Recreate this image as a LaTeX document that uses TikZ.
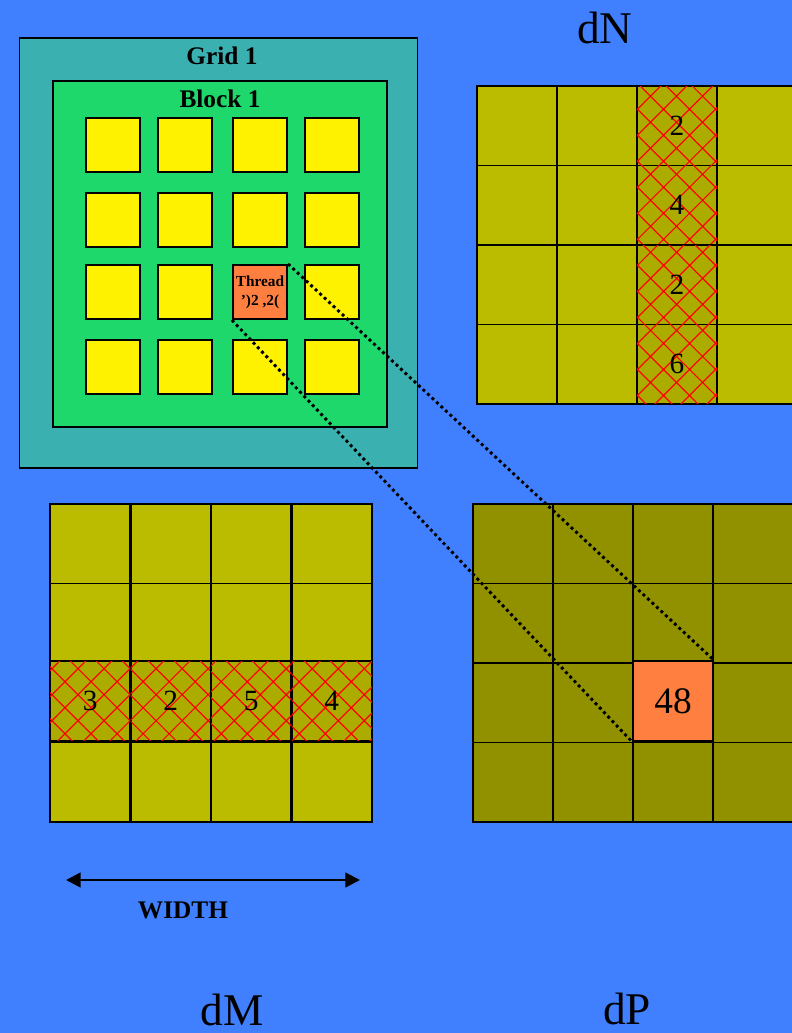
\documentclass[tikz,border=0pt]{standalone}
\usepackage{fontspec}
\setmainfont{Liberation Serif}
\usetikzlibrary{arrows.meta, patterns.meta}

\definecolor{bgblue}{RGB}{64,128,255}
\definecolor{gridteal}{RGB}{58,176,176}
\definecolor{blockgreen}{RGB}{30,216,108}
\definecolor{olive}{RGB}{187,187,0}
\definecolor{olivehatch}{RGB}{172,172,0}
\definecolor{darkolive}{RGB}{145,145,0}
\definecolor{hotorange}{RGB}{255,127,64}

\begin{document}
\begin{tikzpicture}[
    x=0.75pt, y=-0.75pt, >=Stealth,
    cell/.style={draw, line width=1.4pt, fill=olive, inner sep=0pt,
                 minimum width=60.2pt, minimum height=59.6pt,
                 font=\fontsize{22}{22}\selectfont},
    hatched/.style={cell, fill=olivehatch,
                    postaction={pattern={Hatch[angle=45, distance=13.8pt,
                                line width=0.9pt]}, pattern color=red}},
    thread/.style={draw, line width=1.6pt, fill=yellow, inner sep=0pt,
                   minimum size=40.5pt},
    title/.style={font=\fontsize{19}{19}\selectfont\bfseries},
    matname/.style={font=\fontsize{34}{34}\selectfont, anchor=base},
    dotline/.style={line width=2.2pt, dash pattern=on 2.2pt off 2.4pt}
  ]
  \useasboundingbox (0,0) rectangle (792,1033);
  \clip (0,0) rectangle (792,1033);
  \fill[bgblue] (0,0) rectangle (792,1033);

  % grid / block with threads
  \node[draw, line width=1.4pt, fill=gridteal, minimum width=298.5pt,
        minimum height=322.5pt] (grid) at (218.5,253) {};
  \node[title] (gridlbl) at (222,56) {Grid 1};
  \node[draw, line width=1.4pt, fill=blockgreen, minimum width=250.5pt,
        minimum height=259.5pt] (block) at (220,254) {};
  \node[title] (blocklbl) at (220,99) {Block 1};
  \foreach \c/\x in {1/113,2/185,3/260,4/332}{
    \foreach \r/\y in {1/145,2/220,3/292,4/367}{
      \node[thread] (t-\r-\c) at (\x,\y) {};
    }
  }
  \node[thread, fill=hotorange, align=center,
        font=\fontsize{11.5}{14}\selectfont\bfseries] (t-3-3) at (260,292)
    {Thread\\')2 ,2(};

  % dN
  \foreach \c in {1,2,4}{
    \foreach \r in {1,...,4}{
      \node[cell] (n-\r-\c) at ({477+80*(\c-0.5)},{86+79.5*(\r-0.5)}) {};
    }
  }
  \foreach \r/\v in {1/2,2/4,3/2,4/6}{
    \node[hatched] (n-\r-3) at (677,{86+79.5*(\r-0.5)}) {\v};
  }
  \node[matname] (dn) at (605,43) {dN};

  % dM
  \foreach \c in {1,...,4}{
    \foreach \r in {1,2,4}{
      \node[cell] (m-\r-\c) at ({50+80.5*(\c-0.5)},{504+79.5*(\r-0.5)}) {};
    }
  }
  \foreach \c/\v in {1/3,2/2,3/5,4/4}{
    \node[hatched] (m-3-\c) at ({50+80.5*(\c-0.5)},701) {\v};
  }
  \node[matname] (dm) at (232,1025) {dM};

  % dP
  \foreach \c in {1,...,4}{
    \foreach \r in {1,...,4}{
      \node[cell, fill=darkolive] (p-\r-\c)
        at ({473+80*(\c-0.5)},{504+79.5*(\r-0.5)}) {};
    }
  }
  \node[cell, fill=hotorange, font=\fontsize{28}{28}\selectfont] (p-3-3)
    at (673,701) {48};
  \node[matname] (dp) at (627,1024) {dP};

  % WIDTH
  \coordinate (wl) at (66,880);
  \coordinate (wr) at (360,880);
  \draw[line width=1.9pt,
        {Triangle[length=11pt, width=11pt]}-{Triangle[length=11pt, width=11pt]}]
    (wl) -- (wr);
  \node[title] (wlbl) at (183,910) {WIDTH};

  % thread -> result element
  \draw[dotline] (t-3-3.north east) -- (p-3-3.north east);
  \draw[dotline] (t-3-3.south west) -- (p-3-3.south west);
\end{tikzpicture}
\end{document}
